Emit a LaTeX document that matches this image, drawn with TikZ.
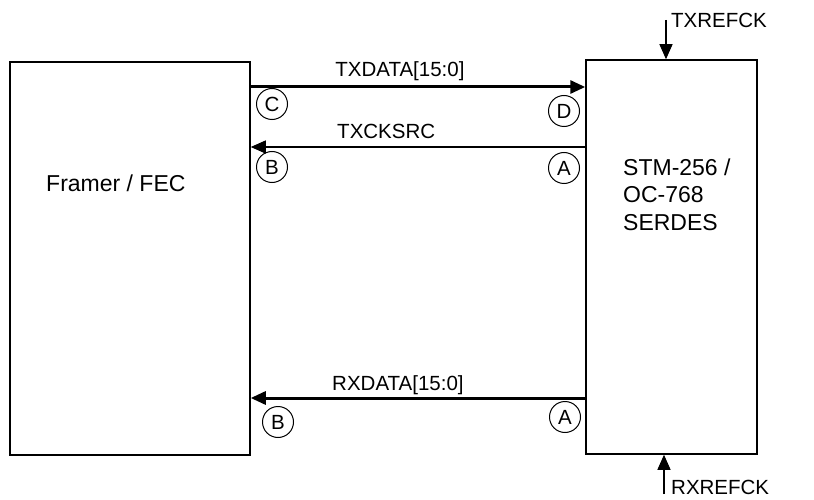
\documentclass[tikz,border=0pt]{standalone}
\usepackage{fontspec}
\setmainfont{Liberation Sans}
\usetikzlibrary{positioning,arrows.meta,calc}

\begin{document}
\begin{tikzpicture}[x=1pt, y=-1pt,
    blk/.style={draw, line width=1.5pt, inner sep=0pt},
    blktext/.style={font=\fontsize{23}{27.5}\selectfont, inner sep=0pt, align=left},
    sig/.style={font=\fontsize{20.5}{24}\selectfont, inner sep=0pt, anchor=base},
    bus/.style={line width=3pt, -{Triangle[length=15pt,width=13pt]}},
    wire/.style={line width=1.2pt, -{Triangle[length=15pt,width=13pt]}},
    portcirc/.style={draw, circle, line width=1pt, minimum size=31pt, inner sep=0pt, font=\fontsize{20.5}{24}\selectfont}]
  \useasboundingbox (0,0) rectangle (814,500);
  % blocks
  \node[blk, minimum width=240pt, minimum height=393pt] (framer) at (130,258.5) {};
  \node[blk, minimum width=171pt, minimum height=394pt] (serdes) at (671.5,257) {};
  \node[blktext, anchor=base west] (framerlbl) at (46,191) {Framer / FEC};
  \node[blktext, anchor=base west] (serdeslbl) at (623,230) {STM-256 /\\OC-768\\SERDES};
  % data and clock lines
  \draw[bus] (framer.east |- 0,87) -- node[sig, pos=0.446, yshift=10pt] {TXDATA[15:0]} (serdes.west |- 0,87);
  \draw[wire] (serdes.west |- 0,147) -- node[sig, pos=0.595, yshift=8pt] {TXCKSRC} (framer.east |- 0,147);
  \draw[bus] (serdes.west |- 0,398) -- node[sig, pos=0.56, yshift=8pt] {RXDATA[15:0]} (framer.east |- 0,398);
  % reference clocks
  \coordinate (txref) at (666,20);
  \coordinate (rxref) at (664,494);
  \draw[wire] (txref) -- (serdes.north -| txref);
  \draw[wire] (rxref) -- (serdes.south -| rxref);
  \node[sig, anchor=west] (txreflbl) at (671,20.5) {TXREFCK};
  \node[sig, anchor=west] (rxreflbl) at (671,487) {RXREFCK};
  % port markers
  \node[portcirc] (pc) at (272,104) {C};
  \node[portcirc] (pb1) at (272,167) {B};
  \node[portcirc] (pd) at (564,111) {D};
  \node[portcirc] (pa1) at (564,168) {A};
  \node[portcirc] (pb2) at (278,422) {B};
  \node[portcirc] (pa2) at (565,417) {A};
\end{tikzpicture}
\end{document}
